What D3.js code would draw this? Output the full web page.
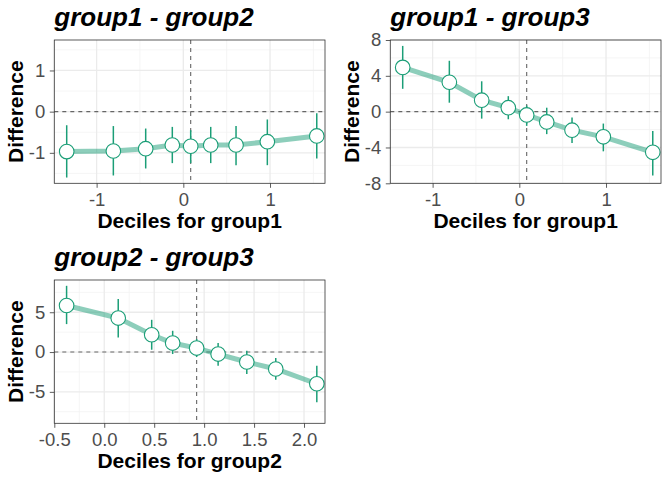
<!DOCTYPE html>
<html>
<head>
<meta charset="utf-8">
<script src="https://cdn.jsdelivr.net/npm/d3@7"></script>
<style>
  body { margin: 0; background: #fff; }
  text { font-family: "Liberation Sans", Arial, sans-serif; }
</style>
</head>
<body>
<svg id="chart" width="672" height="480"></svg>
<script>
// deciles of group1 (x for panels 1 and 2) and group2 (x for panel 3)
let deciles1 = [-1.345, -0.807, -0.434, -0.127, 0.085, 0.316, 0.608, 0.969, 1.539];
let deciles2 = [-0.377, 0.14, 0.475, 0.685, 0.925, 1.14, 1.427, 1.717, 2.128];

let diff12 = [-0.97, -0.956, -0.90, -0.81, -0.84, -0.81, -0.81, -0.73, -0.59];
let low12 = [-1.60, -1.55, -1.38, -1.25, -1.25, -1.25, -1.30, -1.30, -1.14];
let high12 = [-0.33, -0.35, -0.41, -0.37, -0.45, -0.37, -0.35, -0.19, -0.04];

let diff13 = [4.94, 3.28, 1.28, 0.44, -0.37, -1.15, -2.07, -2.81, -4.54];
let low13 = [2.55, 1.0, -0.78, -0.85, -1.59, -2.51, -3.51, -4.43, -7.13];
let high13 = [7.34, 5.68, 3.39, 1.73, 0.70, 0.44, -0.66, -1.33, -2.15];

let diff23 = [5.85, 4.27, 2.17, 1.13, 0.50, -0.25, -1.25, -2.13, -3.98];
let low23 = [3.51, 1.83, 0.29, -0.25, -0.63, -1.72, -2.76, -3.48, -6.32];
let high23 = [8.32, 6.65, 4.05, 2.67, 1.63, 1.13, 0.16, -0.75, -1.72];

let panels = [
    {title: "group1 - group2", xlab: "Deciles for group1", xs: deciles1, d: diff12, lo: low12, hi: high12,
     xdom: [-1.488, 1.634], ydom: [-1.74, 1.74], xticks: [-1, 0, 1], xminor: [-1.5, -0.5, 0.5, 1.5],
     yticks: [-1, 0, 1], yminor: [-1.5, -0.5, 0.5, 1.5], xfmt: d3.format("d"), left: 54.3, top: 40},
    {title: "group1 - group3", xlab: "Deciles for group1", xs: deciles1, d: diff13, lo: low13, hi: high13,
     xdom: [-1.488, 1.634], ydom: [-8, 8], xticks: [-1, 0, 1], xminor: [-1.5, -0.5, 0.5, 1.5],
     yticks: [-8, -4, 0, 4, 8], yminor: [-6, -2, 2, 6], xfmt: d3.format("d"), left: 390.3, top: 40},
    {title: "group2 - group3", xlab: "Deciles for group2", xs: deciles2, d: diff23, lo: low23, hi: high23,
     xdom: [-0.5, 2.21], ydom: [-8.95, 9.05], xticks: [-0.5, 0, 0.5, 1, 1.5, 2], xminor: [-0.25, 0.25, 0.75, 1.25, 1.75],
     yticks: [-5, 0, 5], yminor: [-7.5, -2.5, 2.5, 7.5], xfmt: d3.format(".1f"), left: 54.3, top: 280}
];

let pw = 270.7, ph = 143.3;
let green = "#1b9e77";
let svg = d3.select("#chart");
let minus = s => s.replace("−", "-");

panels.forEach(function (p) {
    let g = svg.append("g").attr("transform", "translate(" + p.left + "," + p.top + ")");
    let x = d3.scaleLinear().domain(p.xdom).range([0, pw]);
    let y = d3.scaleLinear().domain(p.ydom).range([ph, 0]);

    // grid
    g.selectAll(".xmin").data(p.xminor).enter().append("line")
        .attr("x1", d => x(d)).attr("x2", d => x(d)).attr("y1", 0).attr("y2", ph)
        .attr("stroke", "#f2f2f2").attr("stroke-width", 0.8);
    g.selectAll(".ymin").data(p.yminor).enter().append("line")
        .attr("y1", d => y(d)).attr("y2", d => y(d)).attr("x1", 0).attr("x2", pw)
        .attr("stroke", "#f2f2f2").attr("stroke-width", 0.8);
    g.selectAll(".xmaj").data(p.xticks).enter().append("line")
        .attr("x1", d => x(d)).attr("x2", d => x(d)).attr("y1", 0).attr("y2", ph)
        .attr("stroke", "#ebebeb").attr("stroke-width", 1.3);
    g.selectAll(".ymaj").data(p.yticks).enter().append("line")
        .attr("y1", d => y(d)).attr("y2", d => y(d)).attr("x1", 0).attr("x2", pw)
        .attr("stroke", "#ebebeb").attr("stroke-width", 1.3);

    // reference lines: zero difference and median (5th decile)
    g.append("line").attr("x1", 0).attr("x2", pw).attr("y1", y(0)).attr("y2", y(0))
        .attr("stroke", "#666").attr("stroke-width", 1.1).attr("stroke-dasharray", "4,4");
    g.append("line").attr("x1", x(p.xs[4])).attr("x2", x(p.xs[4])).attr("y1", 0).attr("y2", ph)
        .attr("stroke", "#666").attr("stroke-width", 1.1).attr("stroke-dasharray", "4,4");

    let pts = p.xs.map((v, i) => ({x: v, d: p.d[i], lo: p.lo[i], hi: p.hi[i]}));

    g.append("path").datum(pts)
        .attr("d", d3.line().x(d => x(d.x)).y(d => y(d.d)))
        .attr("fill", "none").attr("stroke", green).attr("stroke-opacity", 0.5)
        .attr("stroke-width", 5);

    g.selectAll(".err").data(pts).enter().append("line")
        .attr("x1", d => x(d.x)).attr("x2", d => x(d.x))
        .attr("y1", d => y(d.lo)).attr("y2", d => y(d.hi))
        .attr("stroke", green).attr("stroke-width", 1.5);

    g.selectAll(".pt").data(pts).enter().append("circle")
        .attr("cx", d => x(d.x)).attr("cy", d => y(d.d)).attr("r", 7.3)
        .attr("fill", "#fff").attr("stroke", green).attr("stroke-width", 1.1);

    g.append("rect").attr("width", pw).attr("height", ph)
        .attr("fill", "none").attr("stroke", "#333").attr("stroke-width", 0.8);

    // axes
    let xa = g.append("g").attr("transform", "translate(0," + ph + ")")
        .call(d3.axisBottom(x).tickValues(p.xticks).tickSize(4.5).tickPadding(5)
            .tickFormat(d => minus(p.xfmt(d))));
    let ya = g.append("g")
        .call(d3.axisLeft(y).tickValues(p.yticks).tickSize(4.5).tickPadding(4.5)
            .tickFormat(d => minus(d3.format("d")(d))));
    [xa, ya].forEach(function (a) {
        a.select(".domain").remove();
        a.selectAll(".tick line").attr("stroke", "#333").attr("stroke-width", 0.8);
        a.selectAll(".tick text").attr("fill", "#4d4d4d").style("font-size", "18.5px")
            .style("font-family", "Liberation Sans, Arial, sans-serif");
    });

    g.append("text").attr("x", pw / 2).attr("y", ph + 45)
        .attr("text-anchor", "middle").style("font-size", "21px").style("font-weight", "bold")
        .text(p.xlab);
    g.append("text").attr("transform", "translate(-31," + (ph / 2) + ") rotate(-90)")
        .attr("text-anchor", "middle").style("font-size", "21px").style("font-weight", "bold")
        .text("Difference");
    g.append("text").attr("x", 0).attr("y", -14)
        .style("font-size", "26px").style("font-weight", "bold").style("font-style", "italic")
        .text(p.title);
});
</script>
</body>
</html>
